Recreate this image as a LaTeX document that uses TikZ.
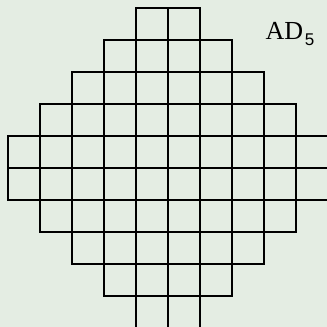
\documentclass[tikz,border=0pt]{standalone}
\usepackage{fontspec}
\setmainfont{Liberation Serif}
\newfontfamily\subsans{Liberation Sans}
\definecolor{bgc}{RGB}{228,237,227}
\begin{document}
\begin{tikzpicture}[x=1pt,y=-1pt,cell/.style={draw=black,line width=2.8pt,line join=miter}]
\fill[bgc] (0,0) rectangle (327,327);
\useasboundingbox (0,0) rectangle (327,327);
\begin{scope}
\clip (0,0) rectangle (327,327);
\foreach \r/\n in {0/1,1/2,2/3,3/4,4/5,5/5,6/4,7/3,8/2,9/1}{
  \pgfmathtruncatemacro\m{\n-1}
  \foreach \c in {-\n,...,\m}{
    \draw[cell] ({168+32*\c},{8+32*\r}) rectangle ++(32,32);
  }
}
\end{scope}
\node[anchor=base west,inner sep=0pt] (lbl) at (265.5,39.5) {\fontsize{26}{28}\selectfont AD\hspace{1.5pt}\raisebox{-6pt}{\subsans\fontsize{17}{17}\selectfont 5}};
\end{tikzpicture}
\end{document}
